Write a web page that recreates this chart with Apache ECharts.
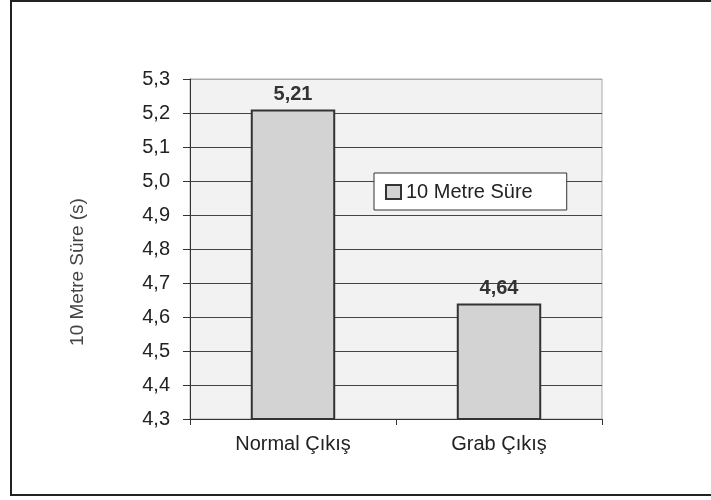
<!DOCTYPE html>
<html><head><meta charset="utf-8">
<script src="https://cdn.jsdelivr.net/npm/echarts@6/dist/echarts.min.js"></script>
<style>html,body{margin:0;padding:0;background:#fff}#c{width:711px;height:500px}</style>
</head><body><div id="c"></div>
<script>
const categories = ['Normal Çıkış', 'Grab Çıkış'];
const seriesName = '10 Metre Süre';
const values = [5.21, 4.64];
const yAxisTitle = '10 Metre Süre (s)';
const yMin = 4.3, yMax = 5.3, yStep = 0.1;

const fmt = v => v.toFixed(1).replace('.', ',');
const chart = echarts.init(document.getElementById('c'), null, {renderer: 'canvas'});
const font = 'Liberation Sans, Arial, sans-serif';
const gridColors = [];
for (let i = 0; i < 10; i++) gridColors.push('#444');
gridColors.push('#aaa');

chart.setOption({
  animation: false,
  backgroundColor: '#fff',
  grid: {left: 190, right: 109, top: 79, bottom: 81, show: true, backgroundColor: '#f2f2f2', borderColor: '#aaa', borderWidth: 1},
  legend: {
    data: [{name: seriesName, icon: 'rect'}], left: 374, top: 173, orient: 'horizontal',
    backgroundColor: '#fff', borderColor: '#333', borderWidth: 1,
    padding: [9, 34, 8, 11], itemWidth: 15, itemHeight: 14,
    textStyle: {fontFamily: font, fontSize: 20, color: '#222'}
  },
  xAxis: {
    type: 'category', data: categories,
    axisLine: {lineStyle: {color: '#333', width: 1}},
    axisTick: {show: true, length: 6, alignWithLabel: false, lineStyle: {color: '#333'}},
    axisLabel: {fontFamily: font, fontSize: 20, color: '#222', margin: 15}
  },
  yAxis: {
    type: 'value', min: yMin, max: yMax, interval: yStep,
    axisLine: {show: true, lineStyle: {color: '#333'}},
    axisTick: {show: true, inside: false, length: 7, lineStyle: {color: '#333'}},
    axisLabel: {fontFamily: font, fontSize: 20, color: '#222', margin: 20, formatter: v => fmt(v)},
    splitLine: {show: true, lineStyle: {color: gridColors, width: 1}}
  },
  graphic: [
    {type: 'rect', shape: {x: 11, y: 1, width: 720, height: 494}, style: {fill: 'none', stroke: '#222', lineWidth: 2}, silent: true},
    {type: 'text', x: 78, y: 272, rotation: Math.PI / 2, style: {text: yAxisTitle, font: '19px ' + font, fill: '#444', align: 'center', verticalAlign: 'middle'}}
  ],
  series: [{
    name: seriesName, type: 'bar', data: values, barWidth: '41%',
    itemStyle: {color: '#d3d3d3', borderColor: '#333', borderWidth: 2},
    label: {show: true, position: 'top', distance: 5, fontFamily: font, fontSize: 20, fontWeight: 'bold', color: '#333',
      formatter: p => p.value.toFixed(2).replace('.', ',')}
  }]
});
</script></body></html>
